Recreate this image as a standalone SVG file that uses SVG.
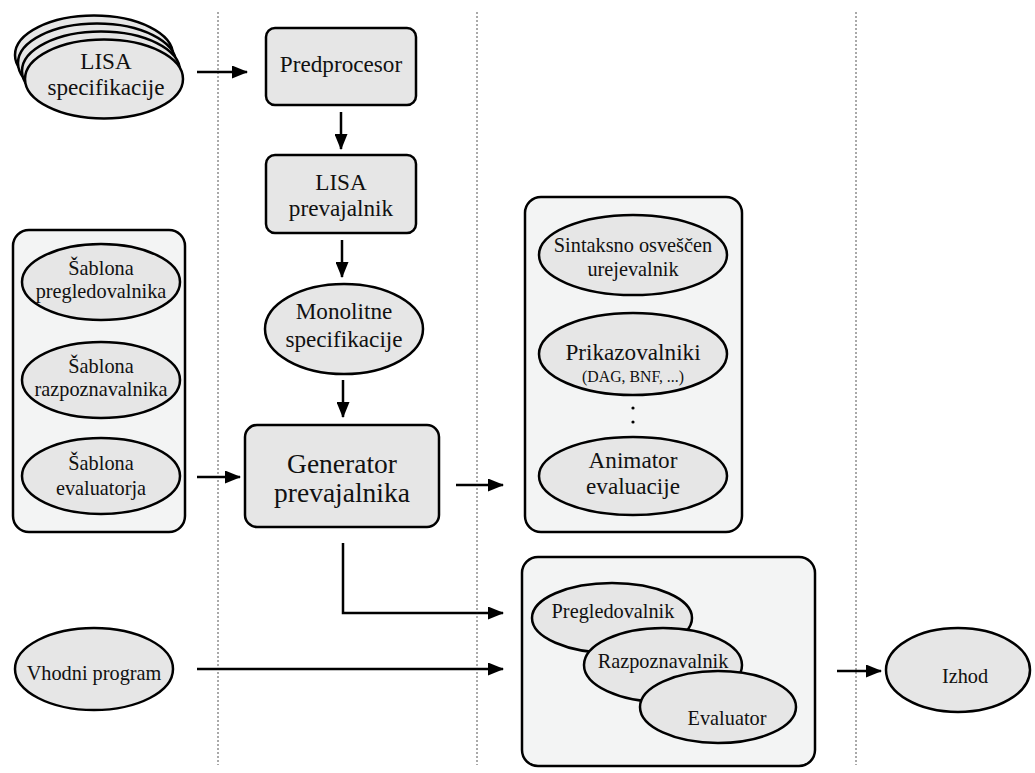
<svg xmlns="http://www.w3.org/2000/svg" width="1035" height="773" viewBox="0 0 1035 773">
  <defs>
    <marker id="arrow" viewBox="0 0 16 13" refX="15" refY="6.5" markerWidth="16" markerHeight="13" markerUnits="userSpaceOnUse" orient="auto">
      <path d="M0,0 L16,6.5 L0,13 Z" fill="#000"/>
    </marker>
    <style>
      .node { fill: #e6e6e6; stroke: #000; stroke-width: 2.5; }
      .group { fill: #f3f4f4; stroke: #000; stroke-width: 2.5; }
      .sep { stroke: #555; stroke-width: 1; stroke-dasharray: 2 2; fill: none; }
      .conn { stroke: #000; stroke-width: 2.5; fill: none; marker-end: url(#arrow); }
      .t22 { font-size: 23.2px; }
      .t20 { font-size: 20.3px; }
      .t27 { font-size: 27.5px; }
      .t16 { font-size: 15.8px; }
    </style>
  </defs>

  <rect width="1035" height="773" fill="#fff"/>

  <!-- stage separators -->
  <g id="separators">
    <line class="sep" x1="218" y1="12" x2="218" y2="765"/>
    <line class="sep" x1="477" y1="12" x2="477" y2="765"/>
    <line class="sep" x1="856" y1="12" x2="856" y2="765"/>
  </g>

  <!-- group containers -->
  <g id="templates-group">
    <rect class="group" x="13" y="230" width="172" height="302" rx="16"/>
  </g>
  <g id="tools-group">
    <rect class="group" x="525" y="197" width="217" height="335" rx="16"/>
  </g>
  <g id="compiler-group">
    <rect class="group" x="522" y="557" width="293" height="209" rx="16"/>
  </g>

  <!-- connectors -->
  <g id="connectors">
    <line class="conn" x1="197" y1="72" x2="247" y2="72"/>
    <line class="conn" x1="341" y1="112" x2="341" y2="149"/>
    <line class="conn" x1="342" y1="240" x2="342" y2="277"/>
    <line class="conn" x1="343" y1="380" x2="343" y2="417"/>
    <line class="conn" x1="197" y1="477" x2="240" y2="477"/>
    <line class="conn" x1="456" y1="485" x2="503" y2="485"/>
    <polyline class="conn" points="343,543 343,613 503,613"/>
    <line class="conn" x1="197" y1="669" x2="503" y2="669"/>
    <line class="conn" x1="837" y1="671" x2="881" y2="671"/>
  </g>

  <g font-family="'Liberation Serif', 'Times New Roman', Tinos, 'DejaVu Serif', serif" text-anchor="middle" fill="#111">
    <!-- stacked LISA specifications -->
    <g id="lisa-specs">
      <ellipse class="node" cx="94" cy="55" rx="79" ry="39.5"/>
      <ellipse class="node" cx="97" cy="63" rx="79" ry="39.5"/>
      <ellipse class="node" cx="101" cy="71" rx="79" ry="39.5"/>
      <ellipse class="node" cx="104" cy="79" rx="79" ry="39.5"/>
      <text class="t22" x="106" y="69">LISA</text>
      <text class="t22" x="106" y="95">specifikacije</text>
    </g>

    <g id="predprocesor">
      <rect class="node" x="266" y="28" width="150" height="77" rx="9"/>
      <text class="t22" x="341" y="72">Predprocesor</text>
    </g>

    <g id="lisa-prevajalnik">
      <rect class="node" x="266" y="155" width="150" height="78" rx="9"/>
      <text class="t22" x="341" y="190">LISA</text>
      <text class="t22" x="341" y="216">prevajalnik</text>
    </g>

    <g id="monolitne-specifikacije">
      <ellipse class="node" cx="344" cy="329" rx="79" ry="45"/>
      <text class="t22" x="344" y="319">Monolitne</text>
      <text class="t22" x="344" y="347">specifikacije</text>
    </g>

    <g id="generator-prevajalnika">
      <rect class="node" x="245" y="425" width="194" height="102" rx="12"/>
      <text class="t27" x="342" y="473">Generator</text>
      <text class="t27" x="342" y="502">prevajalnika</text>
    </g>

    <!-- templates -->
    <g id="sablona-pregledovalnika">
      <ellipse class="node" cx="101" cy="282" rx="79" ry="38"/>
      <text class="t20" x="101" y="275">Šablona</text>
      <text class="t20" x="101" y="298">pregledovalnika</text>
    </g>
    <g id="sablona-razpoznavalnika">
      <ellipse class="node" cx="101" cy="380" rx="79" ry="38"/>
      <text class="t20" x="101" y="373">Šablona</text>
      <text class="t20" x="101" y="396">razpoznavalnika</text>
    </g>
    <g id="sablona-evaluatorja">
      <ellipse class="node" cx="101" cy="476" rx="79" ry="38"/>
      <text class="t20" x="101" y="470">Šablona</text>
      <text class="t20" x="101" y="495">evaluatorja</text>
    </g>

    <!-- generated tools -->
    <g id="sintaksno-urejevalnik">
      <ellipse class="node" cx="633" cy="255" rx="94" ry="40"/>
      <text class="t20" x="633" y="252">Sintaksno osveščen</text>
      <text class="t20" x="633" y="276">urejevalnik</text>
    </g>
    <g id="prikazovalniki">
      <ellipse class="node" cx="633" cy="354" rx="94" ry="41"/>
      <text class="t22" x="633" y="360">Prikazovalniki</text>
      <text class="t16" x="633" y="382">(DAG, BNF, ...)</text>
    </g>
    <g id="ellipsis-dots">
      <circle cx="633" cy="408" r="1.6" fill="#000"/>
      <circle cx="633" cy="422" r="1.6" fill="#000"/>
    </g>
    <g id="animator-evaluacije">
      <ellipse class="node" cx="633" cy="476" rx="94" ry="39"/>
      <text class="t22" x="633" y="468">Animator</text>
      <text class="t22" x="633" y="494">evaluacije</text>
    </g>

    <!-- generated compiler parts -->
    <g id="pregledovalnik">
      <ellipse class="node" cx="612" cy="618" rx="80" ry="35"/>
      <text class="t20" x="613" y="618">Pregledovalnik</text>
    </g>
    <g id="razpoznavalnik">
      <ellipse class="node" cx="663" cy="665" rx="79" ry="37"/>
      <text class="t20" x="663" y="668">Razpoznavalnik</text>
    </g>
    <g id="evaluator">
      <ellipse class="node" cx="718" cy="707" rx="78" ry="36"/>
      <text class="t20" x="727" y="725">Evaluator</text>
    </g>

    <g id="vhodni-program">
      <ellipse class="node" cx="94" cy="669" rx="79" ry="41"/>
      <text class="t20" x="94" y="680">Vhodni program</text>
    </g>

    <g id="izhod">
      <ellipse class="node" cx="958" cy="670" rx="72" ry="42"/>
      <text class="t20" x="965" y="683">Izhod</text>
    </g>
  </g>
</svg>
